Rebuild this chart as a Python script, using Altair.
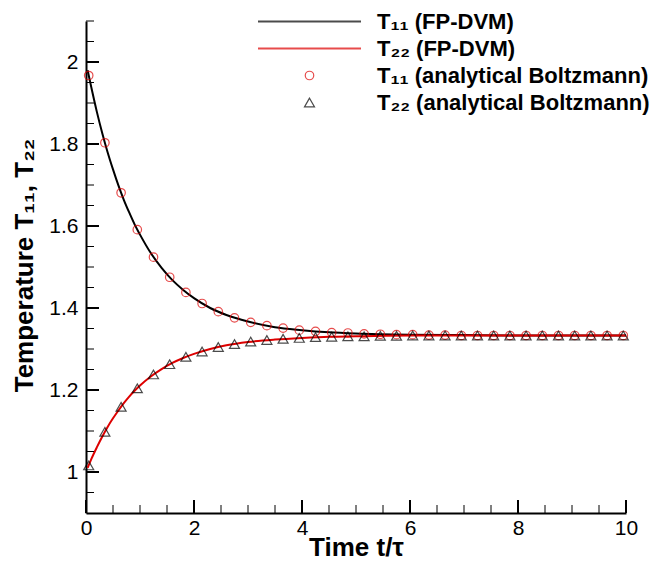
import altair as alt
import pandas as pd

# ---- data ----
s1 = "T₁₁ (FP-DVM)"
s2 = "T₂₂ (FP-DVM)"
s3 = "T₁₁ (analytical Boltzmann)"
s4 = "T₂₂ (analytical Boltzmann)"

t_line = [0.03, 0.1, 0.2, 0.3, 0.4, 0.5, 0.6, 0.7, 0.8, 0.9, 1.0, 1.2, 1.4, 1.6,
          1.8, 2.0, 2.3, 2.6, 3.0, 3.5, 4.0, 4.5, 5.0, 6.0, 7.0, 8.0, 9.0, 10.0]
T11_line = [1.980, 1.937, 1.879, 1.827, 1.780, 1.738, 1.699, 1.664, 1.633, 1.604,
            1.579, 1.534, 1.498, 1.468, 1.444, 1.424, 1.400, 1.383, 1.367, 1.353,
            1.346, 1.341, 1.338, 1.335, 1.334, 1.333, 1.333, 1.333]
T22_line = [1.010, 1.032, 1.060, 1.086, 1.110, 1.131, 1.150, 1.168, 1.184, 1.198,
            1.211, 1.233, 1.251, 1.266, 1.278, 1.288, 1.300, 1.309, 1.317, 1.323,
            1.327, 1.330, 1.331, 1.333, 1.333, 1.333, 1.333, 1.333]

t_mark = [0.05, 0.35, 0.65, 0.95, 1.25, 1.55, 1.85, 2.15, 2.45, 2.75, 3.05, 3.35,
          3.65, 3.95, 4.25, 4.55, 4.85, 5.15, 5.45, 5.75, 6.05, 6.35, 6.65, 6.95,
          7.25, 7.55, 7.85, 8.15, 8.45, 8.75, 9.05, 9.35, 9.65, 9.95]
T11_mark = [1.967, 1.803, 1.681, 1.591, 1.524, 1.475, 1.438, 1.411, 1.391, 1.376,
            1.365, 1.357, 1.351, 1.346, 1.343, 1.340, 1.339, 1.337, 1.336, 1.335,
            1.335, 1.334, 1.334, 1.333, 1.333, 1.333, 1.333, 1.333, 1.333, 1.333,
            1.333, 1.333, 1.333, 1.333]
T22_mark = [1.016, 1.098, 1.159, 1.204, 1.238, 1.263, 1.281, 1.294, 1.305, 1.312,
            1.318, 1.322, 1.325, 1.327, 1.329, 1.330, 1.331, 1.331, 1.332, 1.332,
            1.333, 1.333, 1.333, 1.333, 1.333, 1.333, 1.333, 1.333, 1.333, 1.333,
            1.333, 1.333, 1.333, 1.333]

x_major = [0, 2, 4, 6, 8, 10]
x_minor = [0.5, 1, 1.5, 2.5, 3, 3.5, 4.5, 5, 5.5, 6.5, 7, 7.5, 8.5, 9, 9.5]
y_major = [1.0, 1.2, 1.4, 1.6, 1.8, 2.0]
y_minor = [0.95, 1.05, 1.1, 1.15, 1.25, 1.3, 1.35, 1.45, 1.5, 1.55, 1.65, 1.7,
           1.75, 1.85, 1.9, 1.95, 2.05, 2.1]

# ---- tables ----
n = len(t_line)
lines_df = pd.DataFrame({"t": t_line + t_line, "T": T11_line + T22_line,
                         "series": [s1] * n + [s2] * n})
m = len(t_mark)
circ_df = pd.DataFrame({"t": t_mark, "T": T11_mark, "series": [s3] * m})
tri_df = pd.DataFrame({"t": t_mark, "T": T22_mark, "series": [s4] * m})

W, H = 540, 492
FONT = "Liberation Sans"
RED = "#dd0000"

domain = [s1, s2, s3, s4]
color_scale = alt.Scale(domain=domain, range=["#000000", RED, RED, "#000000"])
shape_scale = alt.Scale(domain=domain, range=["stroke", "stroke", "circle", "triangle-up"])
size_scale = alt.Scale(type="ordinal", domain=domain, range=[10609, 10609, 72, 100])
sw_scale = alt.Scale(type="ordinal", domain=domain, range=[2, 2, 1.2, 1.2])

legend = alt.Legend(
    title=None, orient="none", legendX=171, legendY=-13, padding=0,
    labelFont=FONT, labelFontSize=22, labelFontWeight="bold", labelColor="black",
    labelLimit=500, labelOffset=15, clipHeight=27, rowPadding=0,
    symbolFillColor="transparent",
)

xs = alt.Scale(domain=[0, 10], nice=False, zero=False)
ys = alt.Scale(domain=[0.9, 2.1], nice=False, zero=False)

x_axis = alt.Axis(values=x_major, ticks=False, tickSize=0, grid=False,
                  domainColor="black", domainWidth=2, labelFlush=False,
                  labelFont=FONT, labelFontSize=21, labelColor="black", labelPadding=4,
                  title="Time t/τ", titleFont=FONT, titleFontSize=26,
                  titleFontWeight="bold", titleColor="black",
                  titleX=270, titleY=42, titleBaseline="alphabetic", titleAlign="center")
y_axis = alt.Axis(values=y_major, format="~g", ticks=False, tickSize=0, grid=False,
                  domainColor="black", domainWidth=2, labelFlush=False,
                  labelFont=FONT, labelFontSize=21, labelColor="black", labelPadding=8,
                  title="Temperature T₁₁, T₂₂", titleFont=FONT, titleFontSize=26,
                  titleFontWeight="bold", titleColor="black",
                  titleX=-54, titleY=244, titleBaseline="alphabetic", titleAlign="center",
                  titleAngle=270)

X = alt.X("t:Q", scale=xs, axis=x_axis)
Y = alt.Y("T:Q", scale=ys, axis=y_axis)
C = alt.Color("series:N", scale=color_scale, legend=legend)
S = alt.Shape("series:N", scale=shape_scale, legend=legend)
Z = alt.Size("series:N", scale=size_scale, legend=legend)
SW = alt.StrokeWidth("series:N", scale=sw_scale, legend=legend)

lines = alt.Chart(lines_df).mark_line(interpolate="monotone").encode(
    x=X, y=Y, color=C, strokeWidth=SW)
circles = alt.Chart(circ_df).mark_point(filled=False).encode(
    x=X, y=Y, color=C, shape=S, size=Z, strokeWidth=SW)
triangles = alt.Chart(tri_df).mark_point(filled=False).encode(
    x=X, y=Y, color=C, shape=S, size=Z, strokeWidth=SW)

# inward-pointing ticks drawn at the axis values
xt_major = alt.Chart(pd.DataFrame({"t": x_major})).mark_rule(color="black", strokeWidth=2).encode(
    x=X, y=alt.value(H), y2=alt.value(H - 13))
xt_minor = alt.Chart(pd.DataFrame({"t": x_minor})).mark_rule(color="black", strokeWidth=1).encode(
    x=X, y=alt.value(H), y2=alt.value(H - 8))
yt_major = alt.Chart(pd.DataFrame({"T": y_major})).mark_rule(color="black", strokeWidth=2).encode(
    y=Y, x=alt.value(0), x2=alt.value(13))
yt_minor = alt.Chart(pd.DataFrame({"T": y_minor})).mark_rule(color="black", strokeWidth=1).encode(
    y=Y, x=alt.value(0), x2=alt.value(8))

chart = alt.layer(lines, circles, triangles, xt_major, xt_minor, yt_major, yt_minor).properties(
    width=W, height=H,
    autosize=alt.AutoSizeParams(type="none"),
    padding={"left": 78, "top": 13, "right": 25, "bottom": 48},
    background="white",
).configure_view(stroke=None)

chart.save("out.html", embed_options={"renderer": "svg", "actions": False})
